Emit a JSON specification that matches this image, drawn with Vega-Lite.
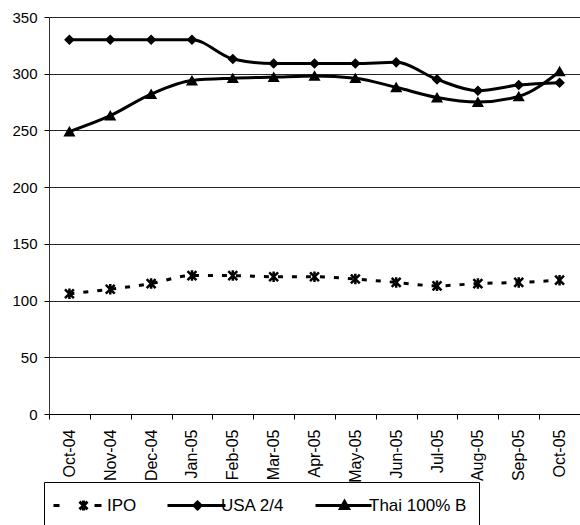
{
  "$schema": "https://vega.github.io/schema/vega-lite/v6.json",
  "width": 531,
  "height": 397,
  "autosize": {"type": "none"},
  "padding": {"left": 49, "top": 17, "right": 0, "bottom": 111},
  "background": "white",
  "config": {"font": "Liberation Sans", "view": {"stroke": null}},
  "data": {
    "values": [
      {"month": "Oct-04", "series": "IPO", "value": 106},
      {"month": "Nov-04", "series": "IPO", "value": 110},
      {"month": "Dec-04", "series": "IPO", "value": 115},
      {"month": "Jan-05", "series": "IPO", "value": 122},
      {"month": "Feb-05", "series": "IPO", "value": 122},
      {"month": "Mar-05", "series": "IPO", "value": 121},
      {"month": "Apr-05", "series": "IPO", "value": 121},
      {"month": "May-05", "series": "IPO", "value": 119},
      {"month": "Jun-05", "series": "IPO", "value": 116},
      {"month": "Jul-05", "series": "IPO", "value": 113},
      {"month": "Aug-05", "series": "IPO", "value": 115},
      {"month": "Sep-05", "series": "IPO", "value": 116},
      {"month": "Oct-05", "series": "IPO", "value": 118},
      {"month": "Oct-04", "series": "USA 2/4", "value": 330},
      {"month": "Nov-04", "series": "USA 2/4", "value": 330},
      {"month": "Dec-04", "series": "USA 2/4", "value": 330},
      {"month": "Jan-05", "series": "USA 2/4", "value": 330},
      {"month": "Feb-05", "series": "USA 2/4", "value": 313},
      {"month": "Mar-05", "series": "USA 2/4", "value": 309},
      {"month": "Apr-05", "series": "USA 2/4", "value": 309},
      {"month": "May-05", "series": "USA 2/4", "value": 309},
      {"month": "Jun-05", "series": "USA 2/4", "value": 310},
      {"month": "Jul-05", "series": "USA 2/4", "value": 295},
      {"month": "Aug-05", "series": "USA 2/4", "value": 285},
      {"month": "Sep-05", "series": "USA 2/4", "value": 290},
      {"month": "Oct-05", "series": "USA 2/4", "value": 292},
      {"month": "Oct-04", "series": "Thai 100% B", "value": 249},
      {"month": "Nov-04", "series": "Thai 100% B", "value": 263},
      {"month": "Dec-04", "series": "Thai 100% B", "value": 282},
      {"month": "Jan-05", "series": "Thai 100% B", "value": 294},
      {"month": "Feb-05", "series": "Thai 100% B", "value": 296},
      {"month": "Mar-05", "series": "Thai 100% B", "value": 297},
      {"month": "Apr-05", "series": "Thai 100% B", "value": 298},
      {"month": "May-05", "series": "Thai 100% B", "value": 296},
      {"month": "Jun-05", "series": "Thai 100% B", "value": 288},
      {"month": "Jul-05", "series": "Thai 100% B", "value": 279},
      {"month": "Aug-05", "series": "Thai 100% B", "value": 275},
      {"month": "Sep-05", "series": "Thai 100% B", "value": 280},
      {"month": "Oct-05", "series": "Thai 100% B", "value": 302}
    ]
  },
  "encoding": {
    "x": {
      "field": "month",
      "type": "ordinal",
      "sort": null,
      "scale": {"type": "band", "paddingInner": 0, "paddingOuter": 0},
      "axis": {
        "title": null,
        "labelAngle": -90,
        "labelFontSize": 16,
        "labelColor": "black",
        "labelPadding": 10,
        "tickBand": "extent",
        "ticks": true,
        "tickSize": 5,
        "tickColor": "black",
        "domainColor": "black",
        "domainWidth": 1,
        "grid": false
      }
    },
    "y": {
      "field": "value",
      "type": "quantitative",
      "scale": {"domain": [0, 350], "nice": false},
      "axis": {
        "title": null,
        "values": [0, 50, 100, 150, 200, 250, 300, 350],
        "labelFontSize": 15,
        "labelColor": "black",
        "labelPadding": 7,
        "tickSize": 5,
        "tickColor": "black",
        "domainColor": "#333333",
        "domainWidth": 1,
        "grid": true,
        "gridColor": "#000000",
        "gridWidth": 1,
        "gridOpacity": 0.85
      }
    }
  },
  "layer": [
    {
      "transform": [{"filter": "datum.series === 'IPO'"}],
      "mark": {"type": "line", "interpolate": "monotone", "strokeWidth": 3, "strokeDash": [5, 9]},
      "encoding": {
        "color": {
          "field": "series",
          "type": "nominal",
          "scale": {"domain": ["IPO", "USA 2/4", "Thai 100% B"], "range": ["black", "black", "black"]},
          "legend": {
            "orient": "none",
            "legendX": -5,
            "legendY": 465,
            "direction": "horizontal",
            "columns": 3,
            "gridAlign": "none",
            "title": null,
            "strokeColor": "black",
            "fillColor": "white",
            "padding": 12,
            "symbolSize": 400,
            "labelOffset": 28,
            "columnPadding": 24,
            "labelFontSize": 17,
            "labelColor": "black",
            "symbolStrokeWidth": 3,
            "symbolStrokeColor": "black",
            "symbolFillColor": "black",
            "symbolOpacity": 1,
            "encode": {
              "symbols": {
                "update": {
                  "shape": {"signal": "datum.value === 'IPO' ? 'M-1.4,0L-0.8,0M2.7,0L3.4,0M1.6,-0.5L1.6,0.5M1.2,-0.38L2.0,0.38M1.2,0.38L2.0,-0.38M4.4,0' : datum.value === 'USA 2/4' ? 'M-1.4,0L4.4,0M1.6,-0.35L1.95,0L1.6,0.35L1.25,0Z' : 'M-1.4,0L4.2,0M1.5,-0.4L1.9,0.3L1.1,0.3Z'"},
                  "fill": {"value": "black"},
                  "stroke": {"value": "black"},
                  "strokeWidth": {"value": 3},
                  "strokeDash": {"value": [1, 0]},
                  "strokeOpacity": {"value": 1},
                  "fillOpacity": {"value": 1},
                  "opacity": {"value": 1}
                }
              }
            }
          }
        }
      }
    },
    {
      "transform": [{"filter": "datum.series !== 'IPO'"}],
      "mark": {"type": "line", "interpolate": "monotone", "strokeWidth": 3},
      "encoding": {
        "color": {
          "field": "series",
          "type": "nominal",
          "scale": {"domain": ["IPO", "USA 2/4", "Thai 100% B"], "range": ["black", "black", "black"]}
        }
      }
    },
    {
      "transform": [{"filter": "datum.series === 'IPO'"}],
      "mark": {"type": "point", "shape": "M0,-1L0,1M-0.85,-0.85L0.85,0.85M-0.85,0.85L0.85,-0.85", "size": 110, "filled": false, "stroke": "black", "strokeWidth": 2.5, "opacity": 1}
    },
    {
      "transform": [{"filter": "datum.series === 'USA 2/4'"}],
      "mark": {"type": "point", "shape": "diamond", "size": 72, "filled": true, "fill": "black", "stroke": "black", "strokeWidth": 1.5, "opacity": 1}
    },
    {
      "transform": [{"filter": "datum.series === 'Thai 100% B'"}],
      "mark": {"type": "point", "shape": "triangle-up", "size": 90, "filled": true, "fill": "black", "stroke": "black", "strokeWidth": 1.5, "opacity": 1}
    }
  ]
}
